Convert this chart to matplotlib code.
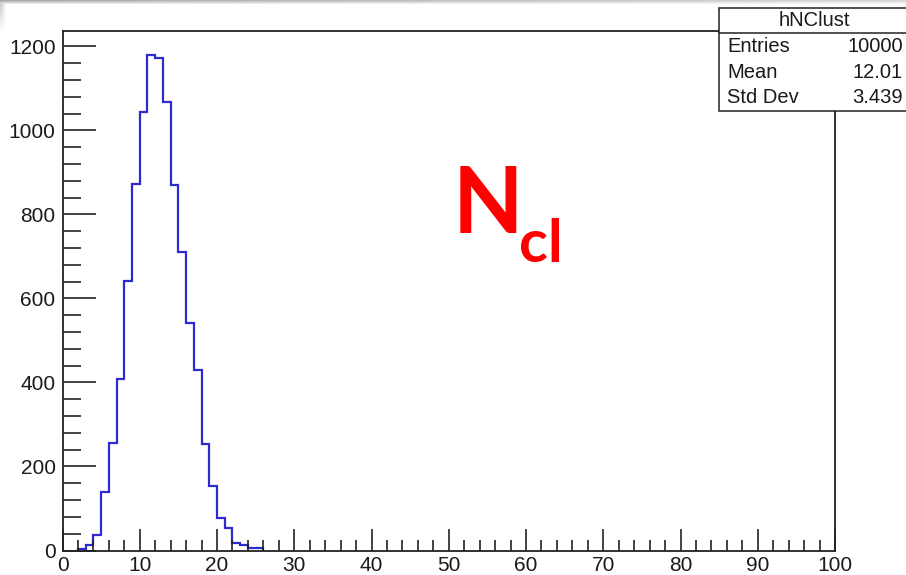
import numpy as np
import matplotlib
matplotlib.use("Agg")
import matplotlib.pyplot as plt
from matplotlib.patches import Rectangle
from matplotlib.ticker import MultipleLocator

W, H = 906, 575

# number of clusters per event, bins of width 1 (bins 0-1 and 26+ are empty)
first_bin = 2
counts = [4, 12, 38, 139, 255, 408, 642, 873, 1045, 1179, 1173, 1067,
          871, 710, 542, 430, 254, 154, 78, 53, 19, 14, 6, 6]
x_range = (0, 100)

hist_name = "hNClust"
stat_names = ["Entries", "Mean", "Std Dev"]
stat_values = ["10000", "12.01", "3.439"]

plt.rcParams["font.family"] = ["Liberation Sans", "DejaVu Sans"]


def fx(px):
    return px / W


def fy(py):
    return 1 - py / H


fig = plt.figure(figsize=(W / 100, H / 100), dpi=100)

# frame: left 62.5, right 835, top 30.5, bottom 550.5 (pixels)
ax = fig.add_axes([fx(62.5), fy(550.5), fx(835) - fx(62.5), fy(30.5) - fy(550.5)])

edges = np.arange(first_bin, first_bin + len(counts) + 1)
ax.stairs(counts, edges, color="#2b2bcf", lw=1.6, baseline=0, zorder=1)

ax.set_xlim(*x_range)
ax.set_ylim(0, max(counts) * 1.05)

ax.xaxis.set_major_locator(MultipleLocator(10))
ax.xaxis.set_minor_locator(MultipleLocator(2))
ax.yaxis.set_major_locator(MultipleLocator(200))
ax.yaxis.set_minor_locator(MultipleLocator(40))

ax.tick_params(axis="x", which="major", direction="in", length=16, width=1.2,
               color="#222222", labelsize=15, pad=4)
ax.tick_params(axis="x", which="minor", direction="in", length=8, width=1.2,
               color="#222222")
ax.tick_params(axis="y", which="major", direction="in", length=24, width=1.2,
               color="#222222", labelsize=15, pad=5)
ax.tick_params(axis="y", which="minor", direction="in", length=13, width=1.2,
               color="#222222")
ax.tick_params(labelcolor="#1a1a1a")
for s in ax.spines.values():
    s.set_color("#222222")
    s.set_linewidth(1.3)
    s.set_zorder(3)

# N_cl label
fig.text(fx(453), fy(233), "N", color="#ff0000", fontsize=66, fontweight="bold",
         family=["Lato", "DejaVu Sans"], ha="left", va="baseline")
fig.text(fx(519), fy(262), "cl", color="#ff0000", fontsize=43, fontweight="bold",
         family=["Lato", "DejaVu Sans"], ha="left", va="baseline")

# statistics box (runs off the right edge)
box_l, box_t, box_r, box_b, head_b = 719, 8.5, 925, 110.5, 32.5
fig.add_artist(Rectangle((fx(box_l), fy(box_b)), fx(box_r) - fx(box_l),
                         fy(box_t) - fy(box_b), transform=fig.transFigure,
                         facecolor="white", edgecolor="#222222", lw=1.1, zorder=5))
fig.add_artist(plt.Line2D([fx(box_l), fx(box_r)], [fy(head_b), fy(head_b)],
                          transform=fig.transFigure, color="#222222", lw=1.1,
                          zorder=6))
fig.text(fx(814), fy(21), hist_name, fontsize=14.5, ha="center", va="center",
         color="#1a1a1a", zorder=7)
for i, (name, val) in enumerate(zip(stat_names, stat_values)):
    y = 47 + i * 25.5
    fig.text(fx(727), fy(y), name, fontsize=14.5, ha="left", va="center",
             color="#1a1a1a", zorder=7)
    fig.text(fx(903), fy(y), val, fontsize=14.5, ha="right", va="center",
             color="#1a1a1a", zorder=7)

# slide shadow along the top and left edges
shade = np.zeros((H, W, 4))
xs = np.linspace(0, 1, W)
top = np.clip(1 - np.arange(H) / 4.0, 0, 1)[:, None]
shade[..., :3] = 0.55
shade[..., 3] = top * (0.75 - 0.4 * xs[None, :])
left = np.clip(1 - np.arange(W) / 6.0, 0, 1)[None, :] * \
    np.clip(1 - np.arange(H) / 32.0, 0, 1)[:, None]
shade[..., 3] = np.maximum(shade[..., 3], left * 0.5)
over = fig.add_axes([0, 0, 1, 1], zorder=10)
over.imshow(shade, aspect="auto", interpolation="bilinear")
over.axis("off")

fig.savefig("out.png", dpi=100)
